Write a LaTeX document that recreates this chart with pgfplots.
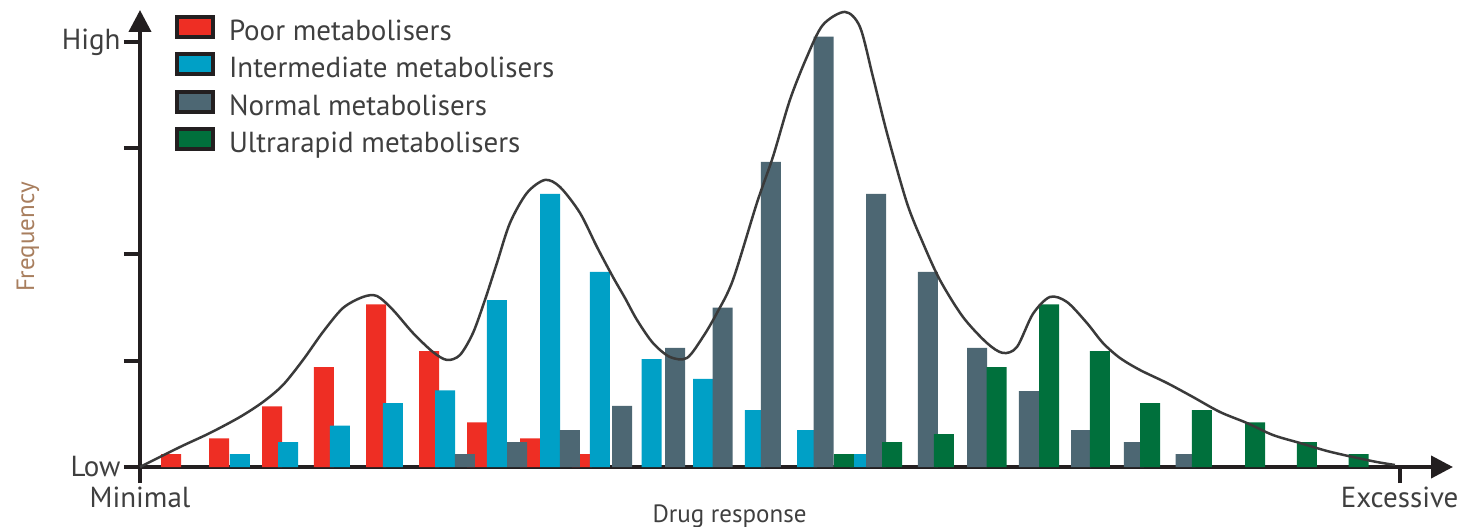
\documentclass[border=0pt]{standalone}
\usepackage{pgfplots}
\pgfplotsset{compat=1.18}
\usepackage{fontspec}
\setmainfont{PT Sans}
\usetikzlibrary{arrows.meta}

\definecolor{pm}{HTML}{EE2E24}
\definecolor{im}{HTML}{00A0C6}
\definecolor{nm}{HTML}{4D6773}
\definecolor{um}{HTML}{00703C}
\definecolor{axc}{HTML}{231F20}
\definecolor{txt}{HTML}{3F3F3F}
\definecolor{flab}{HTML}{A87E5E}
\definecolor{curve}{HTML}{3A3A3A}

\pgfplotsset{
  metab/.style={ybar, bar width=0.386, bar shift=0pt, draw=none, fill=#1,
    legend image code/.code={%
      \draw[##1, draw=axc, line width=4pt] (2pt,-3.5pt) rectangle (38pt,16.5pt);}},
}

\begin{document}
\begin{tikzpicture}
\begin{axis}[
  scale only axis, width=1313pt, height=457pt,
  xmin=0, xmax=25.35, ymin=0, ymax=4.30,
  axis lines*=left,
  axis line style={line width=4pt, axc, -{Triangle[length=22pt,width=22pt]}},
  clip=false,
  xtick={0,24.32}, xticklabels={Minimal,Excessive},
  ytick={0,1,2,3,4}, yticklabels={Low,,,,High},
  tick align=outside, major tick length=16pt,
  tick style={line width=4pt, axc},
  ticklabel style={font=\fontsize{29pt}{34pt}\selectfont, text=txt},
  xlabel={Drug response}, ylabel={Frequency},
  xlabel style={at={([yshift=-55pt]axis description cs:0.449,0)}, anchor=base,
    font=\fontsize{25pt}{30pt}\selectfont, text=txt},
  ylabel style={at={([xshift=-112pt]axis description cs:0,0.503)}, anchor=center,
    font=\fontsize{25pt}{30pt}\selectfont, text=flab},
  legend style={at={(rel axis cs:0,1)}, anchor=north west, xshift=35pt, yshift=-5pt,
    draw=none, fill=none, inner sep=0pt, outer sep=0pt, row sep=6pt,
    font=\fontsize{29pt}{34pt}\selectfont, text=txt,
    nodes={inner sep=0pt, text height=20pt, text depth=6pt},
    /tikz/every odd column/.style={column sep=14pt}},
  legend cell align=left,
]

\addplot[metab=pm] coordinates {
  (0.60,0.12) (1.53,0.27) (2.55,0.57) (3.55,0.94) (4.56,1.53)
  (5.58,1.09) (6.51,0.42) (7.53,0.27) (8.53,0.12)
};
\addlegendentry{Poor metabolisers}

\addplot[metab=im] coordinates {
  (1.93,0.12) (2.86,0.235) (3.86,0.39) (4.88,0.60) (5.89,0.72)
  (6.89,1.57) (7.92,2.57) (8.88,1.835) (9.88,1.016) (10.87,0.83)
  (11.87,0.536) (12.88,0.348) (13.90,0.122)
};
\addlegendentry{Intermediate metabolisers}

\addplot[metab=nm] coordinates {
  (6.27,0.122) (7.28,0.235) (8.30,0.348) (9.31,0.574) (10.33,1.12)
  (11.25,1.50) (12.18,2.87) (13.20,4.05) (14.21,2.57) (15.21,1.835)
  (16.16,1.12) (17.16,0.715) (18.17,0.348) (19.19,0.235) (20.19,0.122)
};
\addlegendentry{Normal metabolisers}

\addplot[metab=um] coordinates {
  (13.59,0.122) (14.52,0.235) (15.52,0.31) (16.54,0.94) (17.55,1.53)
  (18.53,1.09) (19.50,0.60) (20.50,0.536) (21.53,0.42) (22.53,0.235)
  (23.53,0.122)
};
\addlegendentry{Ultrarapid metabolisers}

% envelope of all four groups
\addplot[curve, line width=2.5pt, smooth, no marks, forget plot] coordinates {
  (0,0) (0.772,0.188) (1.351,0.320) (1.931,0.471) (2.375,0.612)
  (2.761,0.772) (3.147,1.007) (3.533,1.271) (3.919,1.496) (4.305,1.600)
  (4.575,1.609) (4.884,1.478) (5.270,1.261) (5.656,1.082) (5.927,1.007)
  (6.178,1.054) (6.429,1.261) (6.660,1.572) (6.892,1.920) (7.143,2.296)
  (7.471,2.579) (7.819,2.701) (8.108,2.635) (8.494,2.391) (8.822,2.071)
  (9.131,1.788) (9.363,1.591) (9.595,1.384) (9.903,1.167) (10.232,1.035)
  (10.560,1.026) (10.869,1.224) (11.139,1.449) (11.448,1.760) (11.911,2.485)
  (12.220,2.918) (12.548,3.454) (12.876,3.859) (13.185,4.160) (13.610,4.282)
  (13.900,4.141) (14.151,3.671) (14.421,3.144) (14.807,2.485) (15.116,2.108)
  (15.444,1.760) (15.888,1.412) (16.351,1.167) (16.660,1.073) (16.931,1.129)
  (17.239,1.440) (17.568,1.600) (17.896,1.553) (18.282,1.355) (18.591,1.167)
  (18.919,1.026) (19.305,0.913) (19.826,0.791) (20.328,0.659) (20.849,0.518)
  (21.371,0.414) (21.873,0.301) (22.394,0.226) (22.915,0.151) (23.417,0.094)
  (23.880,0.047) (24.228,0.019)
};
\end{axis}
\pgfresetboundingbox
\path[use as bounding box] (-140pt,-60pt) rectangle (1318pt,467pt);
\end{tikzpicture}
\end{document}
